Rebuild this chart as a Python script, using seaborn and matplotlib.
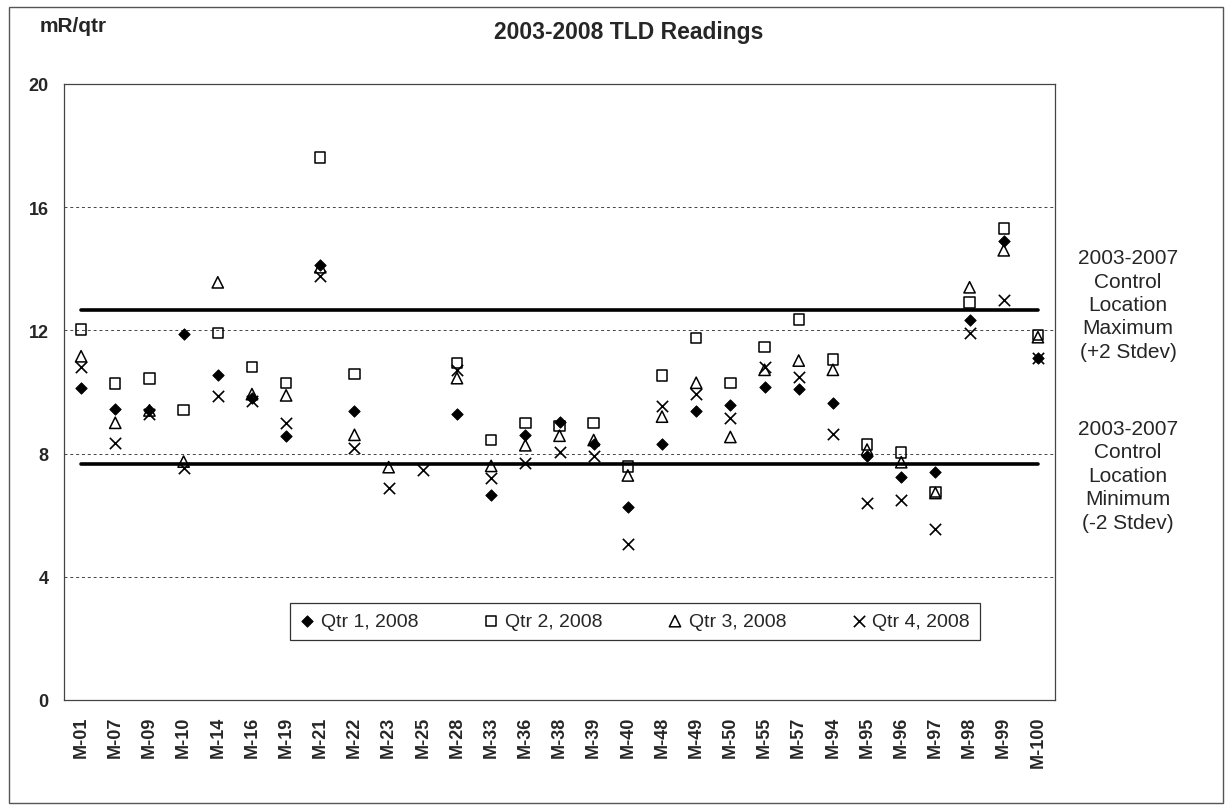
import matplotlib
matplotlib.use("Agg")
import matplotlib.pyplot as plt
from matplotlib.patches import Rectangle
import numpy as np
import pandas as pd
import seaborn as sb

# TLD sampling locations along the x axis
sites = ["M-01", "M-07", "M-09", "M-10", "M-14", "M-16", "M-19", "M-21", "M-22", "M-23",
         "M-25", "M-28", "M-33", "M-36", "M-38", "M-39", "M-40", "M-48", "M-49", "M-50",
         "M-55", "M-57", "M-94", "M-95", "M-96", "M-97", "M-98", "M-99", "M-100"]

# quarterly readings, mR/qtr (nan = no reading shown)
qtr1 = [10.13, 9.44, 9.42, 11.87, 10.56, 9.82, 8.56, 14.13, 9.38, np.nan,
        np.nan, 9.27, 6.66, 8.60, 9.03, 8.30, 6.28, 8.30, 9.39, 9.58,
        10.15, 10.10, 9.65, 7.92, 7.25, 7.41, 12.33, 14.90, 11.10]
qtr2 = [12.03, 10.27, 10.44, 9.42, 11.92, 10.82, 10.30, 17.62, 10.58, np.nan,
        np.nan, 10.95, 8.44, 9.00, 8.90, 9.00, 7.58, 10.54, 11.76, 10.30,
        11.47, 12.36, 11.05, 8.30, 8.03, 6.76, 12.90, 15.31, 11.85]
qtr3 = [11.16, 9.00, 9.40, 7.74, 13.56, 9.93, 9.89, 14.05, 8.61, 7.56,
        np.nan, 10.45, 7.60, 8.27, 8.58, 8.44, 7.29, 9.20, 10.30, 8.54,
        10.72, 11.02, 10.72, 8.13, 7.72, 6.72, 13.40, 14.60, 11.78]
qtr4 = [10.80, 8.35, 9.27, 7.53, 9.87, 9.71, 8.99, 13.76, 8.18, 6.88,
        7.46, 10.70, 7.20, 7.70, 8.06, 7.93, 5.05, 9.53, 9.93, 9.17,
        10.80, 10.50, 8.64, 6.40, 6.48, 5.56, 11.90, 12.99, 11.10]

quarter_names = ["Qtr 1, 2008", "Qtr 2, 2008", "Qtr 3, 2008", "Qtr 4, 2008"]

# 2003-2007 control location limits (+/- 2 stdev)
ctrl_max = 12.65
ctrl_min = 7.65

y_ticks = [0, 4, 8, 12, 16, 20]


def get_readings():
    #long form frame so seaborn can plot one quarter at a time
    df = pd.DataFrame({"site": sites, quarter_names[0]: qtr1, quarter_names[1]: qtr2,
                       quarter_names[2]: qtr3, quarter_names[3]: qtr4})
    return df.melt(id_vars="site", var_name="quarter", value_name="reading")


def show_report():
    sb.set_style("white")
    plt.rcParams["font.family"] = ["Liberation Sans", "DejaVu Sans"]

    fig = plt.figure(figsize=(12.27, 8.12), dpi=100)
    ax = fig.add_axes([64 / 1227, 1 - 701 / 812, 991 / 1227, 616 / 812])

    #control limit lines first, so the category order is set from the full site list
    limits = pd.DataFrame({"site": sites,
                           "max": [ctrl_max] * len(sites),
                           "min": [ctrl_min] * len(sites)})
    sb.lineplot(data=limits, x="site", y="max", sort=False, color="black", lw=2.6, ax=ax)
    sb.lineplot(data=limits, x="site", y="min", sort=False, color="black", lw=2.6, ax=ax)

    readings = get_readings()
    marker_styles = {
        quarter_names[0]: dict(marker="D", s=34, color="black", edgecolor="black", linewidth=0.6),
        quarter_names[1]: dict(marker="s", s=56, facecolor="none", edgecolor="black", linewidth=1.1),
        quarter_names[2]: dict(marker="^", s=66, facecolor="none", edgecolor="black", linewidth=1.1),
        quarter_names[3]: dict(marker="x", s=66, color="black", linewidth=1.2),
    }
    for q in quarter_names:
        sb.scatterplot(data=readings[readings["quarter"] == q], x="site", y="reading",
                       label=q, ax=ax, zorder=3, **marker_styles[q])

    #axes decoration
    ax.set_xlim(-0.5, len(sites) - 0.5)
    ax.set_ylim(0, 20)
    ax.set_yticks(y_ticks)
    ax.set_xticks(range(len(sites)))
    ax.set_xticklabels(sites, rotation=90, fontweight="bold", fontsize=13)
    ax.set_xticks(np.arange(-0.5, len(sites)), minor=True)
    ax.tick_params(axis="x", which="major", length=0, pad=11)
    ax.tick_params(axis="x", which="minor", length=5, width=0.8, direction="out", color="#444")
    ax.tick_params(axis="y", length=0, pad=11, labelsize=13)
    for lbl in ax.get_yticklabels():
        lbl.set_fontweight("bold")
    ax.set_xlabel("")
    ax.set_ylabel("")
    ax.yaxis.grid(True, linestyle=(0, (3, 3)), color="#444444", lw=0.7)
    for sp in ax.spines.values():
        sp.set_visible(True)
        sp.set_color("#444444")
        sp.set_linewidth(0.9)

    leg = ax.legend(loc="center", bbox_to_anchor=(0.228, 0.094, 0.696, 0.067), mode="expand",
                    ncol=4, frameon=True, fancybox=False, edgecolor="black", fontsize=14,
                    handlelength=0.8, handletextpad=0.3, borderpad=0.5, borderaxespad=0)
    leg.get_frame().set_linewidth(0.9)

    #titles and side notes
    fig.text(629 / 1227, 1 - 32 / 812, "2003-2008 TLD Readings", ha="center", va="center",
             fontsize=16.5, fontweight="bold")
    fig.text(73 / 1227, 1 - 27 / 812, "mR/qtr", ha="center", va="center",
             fontsize=15, fontweight="bold")
    fig.text(1128 / 1227, 1 - 305.5 / 812, "2003-2007\nControl\nLocation\nMaximum\n(+2 Stdev)",
             ha="center", va="center", multialignment="center", fontsize=15, linespacing=1.3)
    fig.text(1128 / 1227, 1 - 476.5 / 812, "2003-2007\nControl\nLocation\nMinimum\n(-2 Stdev)",
             ha="center", va="center", multialignment="center", fontsize=15, linespacing=1.3)

    #outer frame of the chart
    fig.add_artist(Rectangle((9 / 1227, 8 / 812), 1214 / 1227, 796 / 812, transform=fig.transFigure,
                             fill=False, edgecolor="#555555", lw=1.0))

    fig.savefig("out.png", dpi=100)


if __name__ == '__main__':
    show_report()
